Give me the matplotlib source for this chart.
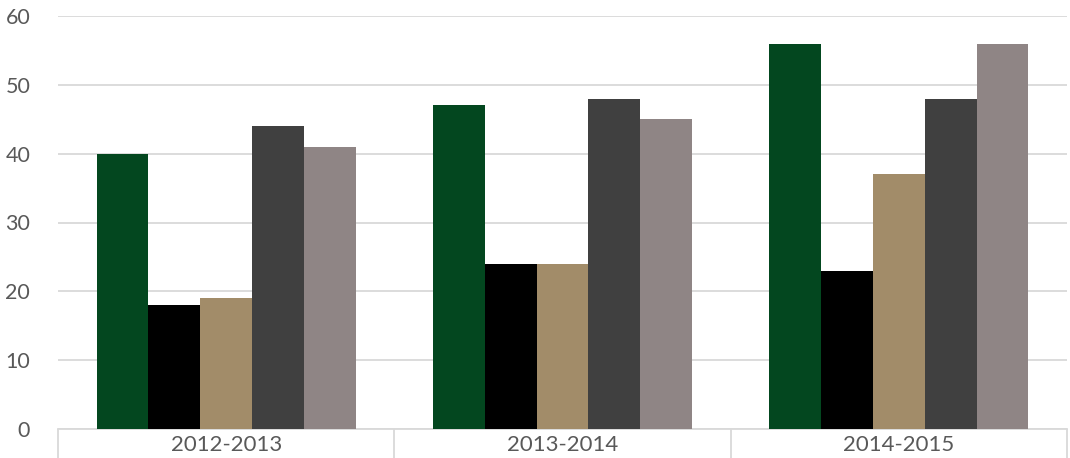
import numpy as np
import matplotlib
matplotlib.use("Agg")
import matplotlib.pyplot as plt

# data
years = ["2012-2013", "2013-2014", "2014-2015"]
series_a = [40, 47, 56]
series_b = [18, 24, 23]
series_c = [19, 24, 37]
series_d = [44, 48, 48]
series_e = [41, 45, 56]
colors = ["#03471F", "#000000", "#A28C69", "#404040", "#8F8585"]

plt.rcParams['font.family'] = ['Lato', 'DejaVu Sans']

fig = plt.figure(figsize=(10.7, 4.58), dpi=100)
ax = fig.add_axes([58 / 1070, 29 / 458, 1009 / 1070, 413 / 458])

x = np.arange(len(years))
w = 0.154
all_series = [series_a, series_b, series_c, series_d, series_e]
for i, (vals, c) in enumerate(zip(all_series, colors)):
    ax.bar(x + (i - 2) * w, vals, width=w, color=c, zorder=3)

ax.set_xlim(-0.5, 2.5)
ax.set_ylim(0, 60)
ax.set_yticks(range(0, 61, 10))
ax.yaxis.grid(True, color="#D9D9D9", linewidth=1.3, zorder=0)
ax.tick_params(axis="y", length=0, pad=20, labelsize=15.5, labelcolor="#595959")

ax.set_xticks(x)
ax.set_xticklabels(years)
ax.tick_params(axis="x", which="major", length=0, pad=4, labelsize=16, labelcolor="#595959")
ax.set_xticks([-0.5, 0.5, 1.5, 2.5], minor=True)
ax.tick_params(axis="x", which="minor", length=21, width=1.3, color="#D9D9D9")

for s in ["top", "right", "left"]:
    ax.spines[s].set_visible(False)
ax.spines["bottom"].set_color("#D9D9D9")
ax.spines["bottom"].set_linewidth(1.3)

fig.savefig("out.png", dpi=100)
